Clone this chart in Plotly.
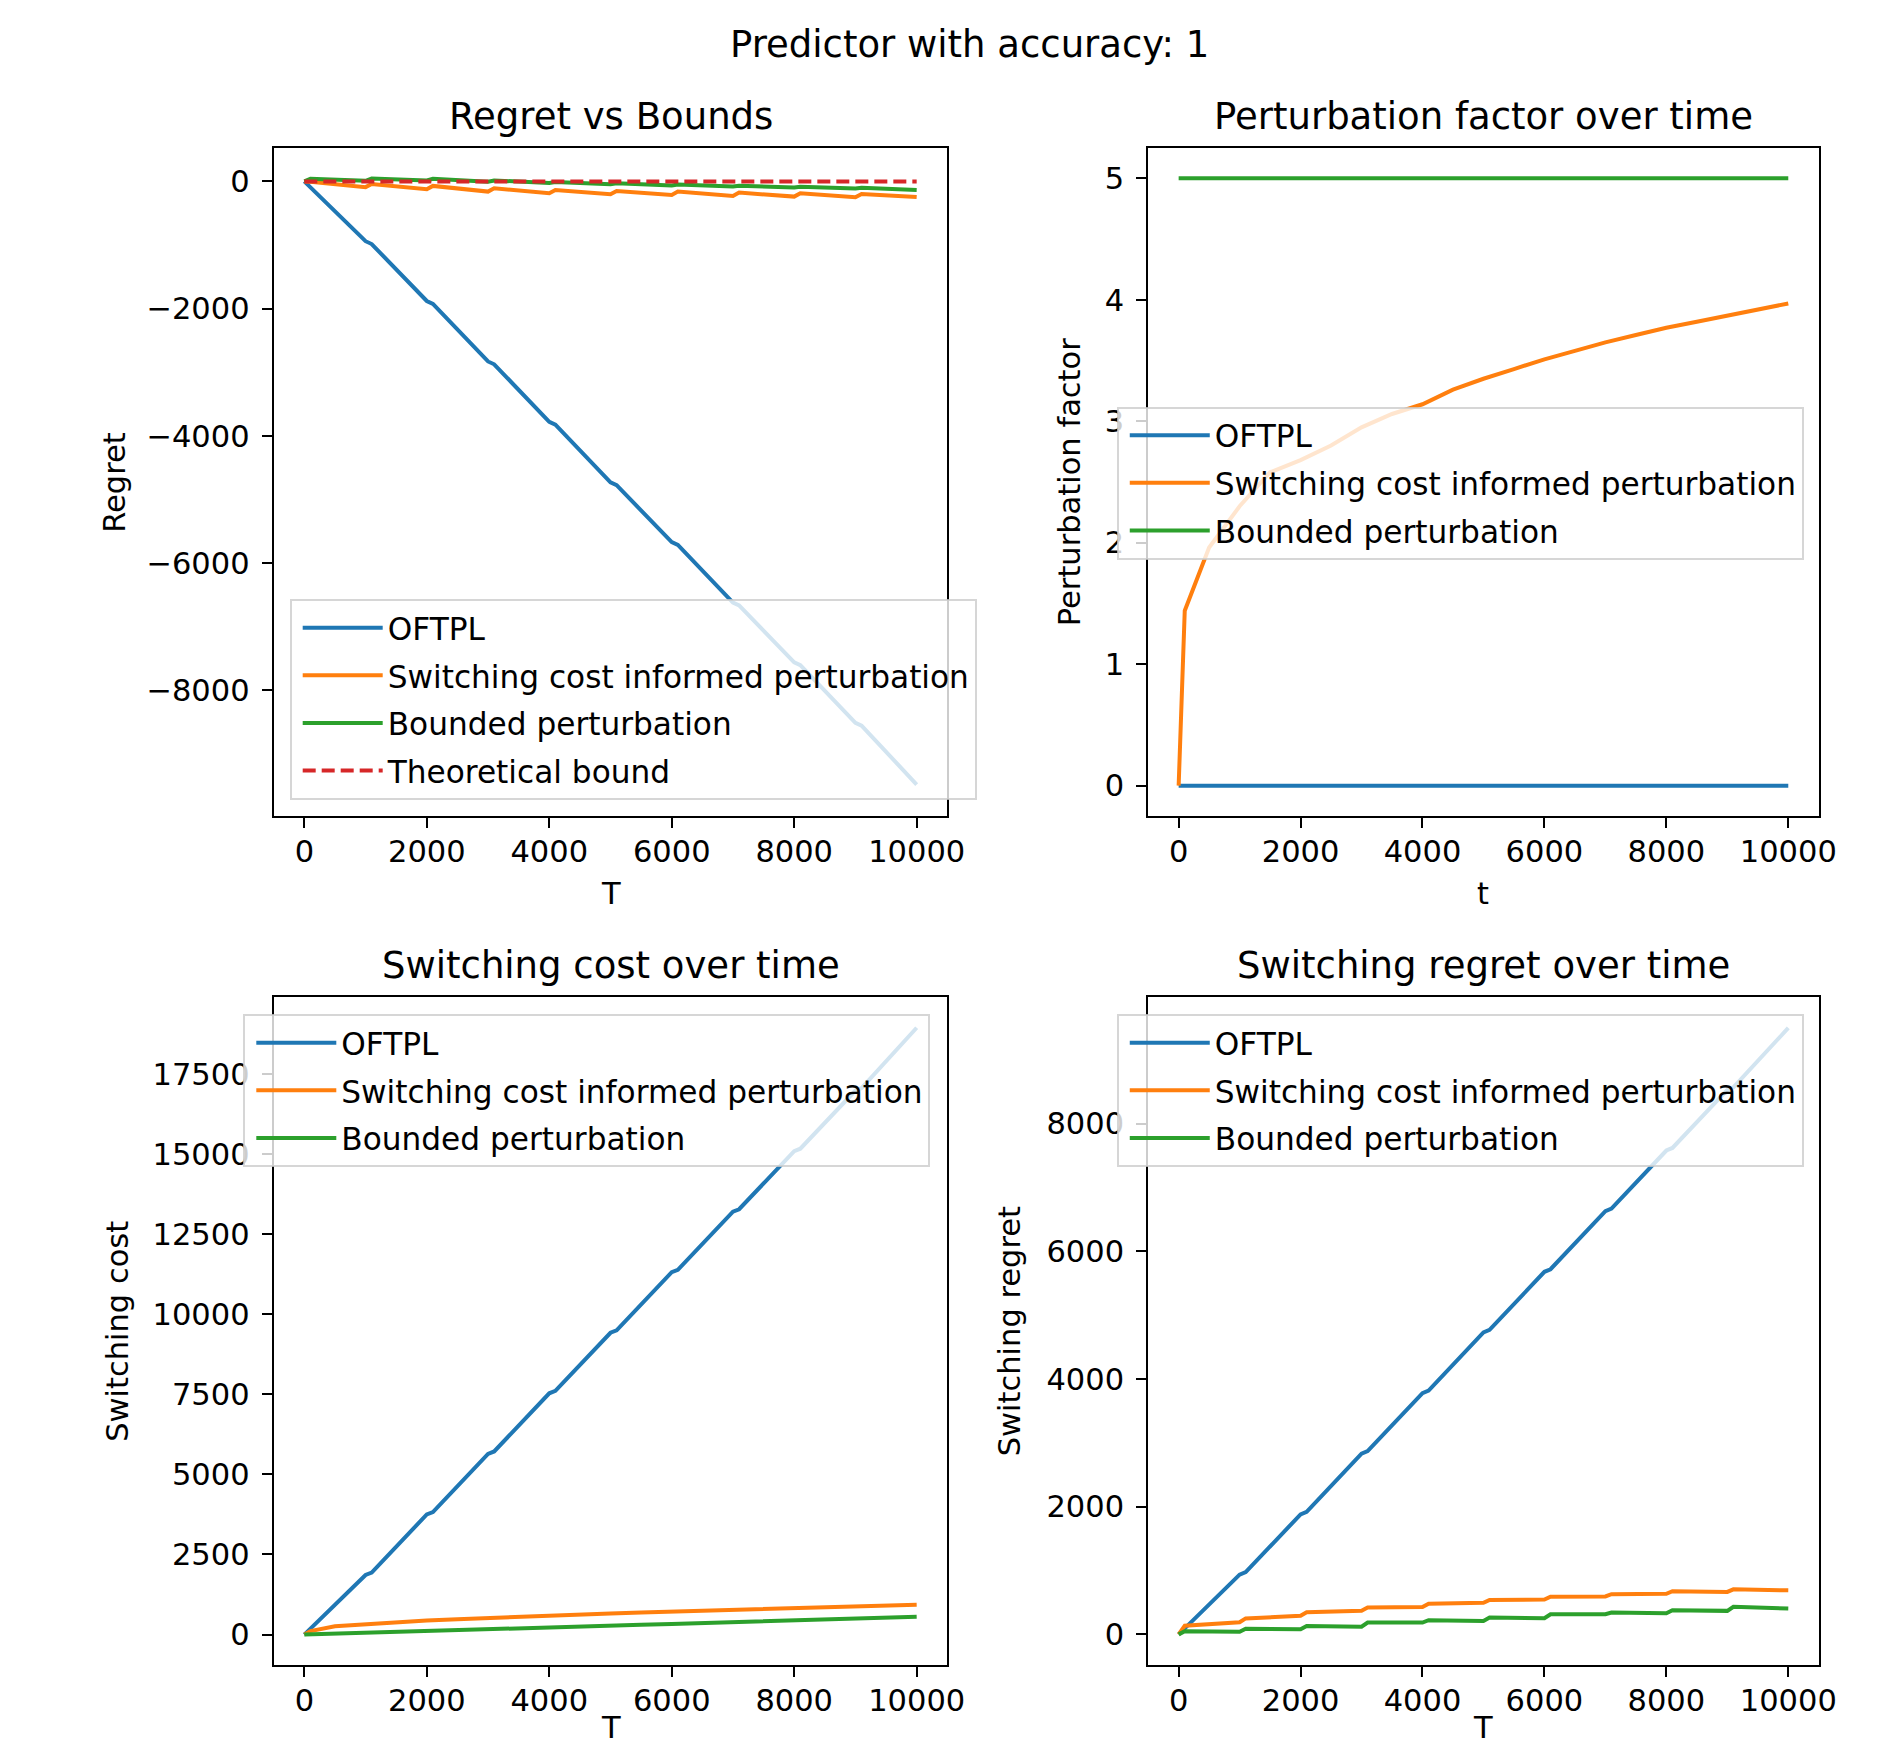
import plotly.graph_objects as go

# page has an 8px body margin: draw the figure 16px smaller and shift coordinates
PAGE_W, PAGE_H = 1889, 1755
OFF = 8
W, H = PAGE_W - 2 * OFF, PAGE_H - 2 * OFF
SX, BX = 0.991, -2.8   # observed horizontal mapping of the rendered page

# ---------------- data ----------------
T_STEP = [0, 100, 1000, 1100, 2000, 2100, 3000, 3100, 4000, 4100, 5000,
          5100, 6000, 6100, 7000, 7100, 8000, 8100, 9000, 9100, 10000]
T_SMOOTH = [0, 100, 500, 1000, 1500, 2000, 2500, 3000, 3500, 4000, 4500,
            5000, 5500, 6000, 6500, 7000, 7500, 8000, 8500, 9000, 9500, 10000]
T_ENDS = [0, 10000]

series_names = ["OFTPL", "Switching cost informed perturbation", "Bounded perturbation"]
bound_name = "Theoretical bound"

# Regret vs Bounds
regret_oftpl = [0, -95, -940, -985, -1880, -1925, -2830, -2875, -3780, -3825, -4730,
                -4775, -5670, -5715, -6620, -6665, -7560, -7605, -8510, -8555, -9480]
regret_switch = [0, -5, -90, -40, -123, -71, -160, -108, -186, -134, -202,
                 -150, -213, -160, -228, -176, -239, -186, -249, -197, -245]
regret_bounded = [0, 40, 10, 45, 15, 40, -5, 15, -25, -10, -45,
                  -30, -65, -50, -80, -68, -95, -85, -112, -100, -134]
regret_bound = [0, 0]

# Perturbation factor over time
pert_oftpl = [0, 0]
pert_switch = [0, 1.44, 1.96, 2.30, 2.58, 2.68, 2.80, 2.95, 3.06, 3.14, 3.26,
               3.35, 3.43, 3.51, 3.58, 3.65, 3.71, 3.77, 3.82, 3.87, 3.92, 3.97]
pert_bounded = [5, 5]

# Switching cost over time
cost_oftpl = [0, 190, 1860, 1935, 3750, 3825, 5640, 5715, 7530, 7605, 9420,
              9495, 11310, 11385, 13200, 13275, 15090, 15165, 16980, 17055, 18940]
cost_switch = [0, 110, 260, 330, 390, 440, 480, 520, 560, 600, 630,
               660, 690, 720, 750, 775, 800, 830, 855, 880, 905, 930]
cost_bounded = [0, 5, 28, 55, 83, 110, 138, 166, 194, 222, 250,
                277, 305, 333, 360, 388, 416, 444, 471, 499, 527, 554]

# Switching regret over time
sreg_oftpl = [0, 95, 935, 975, 1880, 1920, 2830, 2870, 3780, 3820, 4730,
              4770, 5680, 5720, 6630, 6670, 7580, 7620, 8530, 8570, 9500]
sreg_switch = [0, 135, 190, 250, 290, 345, 370, 420, 430, 480, 495,
               540, 545, 590, 595, 630, 635, 675, 665, 705, 690]
sreg_bounded = [0, 50, 42, 89, 79, 131, 121, 184, 184, 221, 210,
                263, 252, 315, 315, 341, 331, 378, 368, 431, 405]

C_BLUE, C_ORANGE, C_GREEN, C_RED = "#1f77b4", "#ff7f0e", "#2ca02c", "#d62728"
FONT = "DejaVu Sans"
LW = 4

fig = go.Figure()

def add(x, y, name, color, ax, legend, group, dash="solid"):
    fig.add_trace(go.Scatter(
        x=x, y=y, name=name, mode="lines",
        line=dict(color=color, width=LW, dash=dash),
        xaxis="x" + ax, yaxis="y" + ax, legend=legend, legendgroup=group,
        showlegend=True))

add(T_STEP, regret_oftpl, series_names[0], C_BLUE, "", "legend", "a1")
add(T_STEP, regret_switch, series_names[1], C_ORANGE, "", "legend", "a2")
add(T_STEP, regret_bounded, series_names[2], C_GREEN, "", "legend", "a3")
add(T_ENDS, regret_bound, bound_name, C_RED, "", "legend", "a4", dash="13px,6px")
add(T_ENDS, pert_oftpl, series_names[0], C_BLUE, "2", "legend2", "b1")
add(T_SMOOTH, pert_switch, series_names[1], C_ORANGE, "2", "legend2", "b2")
add(T_ENDS, pert_bounded, series_names[2], C_GREEN, "2", "legend2", "b3")
add(T_STEP, cost_oftpl, series_names[0], C_BLUE, "3", "legend3", "c1")
add(T_SMOOTH, cost_switch, series_names[1], C_ORANGE, "3", "legend3", "c2")
add(T_SMOOTH, cost_bounded, series_names[2], C_GREEN, "3", "legend3", "c3")
add(T_STEP, sreg_oftpl, series_names[0], C_BLUE, "4", "legend4", "d1")
add(T_STEP, sreg_switch, series_names[1], C_ORANGE, "4", "legend4", "d2")
add(T_STEP, sreg_bounded, series_names[2], C_GREEN, "4", "legend4", "d3")

# ---------------- layout (positions given in page pixels) ----------------
def px(x):
    return ((x - BX) / SX - OFF) / W

def py(y):
    return 1 - (y - OFF) / H

XL = [px(271), px(945)]
XR = [px(1146), px(1817)]
YT = [py(816), py(148)]
YB = [py(1665), py(997)]

def axis(domain, anchor, rng, dtick, standoff):
    return dict(domain=domain, anchor=anchor, range=rng, dtick=dtick, tick0=0,
                showline=True, mirror=True, linecolor="black", linewidth=2,
                ticks="outside", ticklen=10, tickwidth=2, tickcolor="black",
                ticklabelstandoff=standoff,
                showgrid=False, zeroline=False, tickformat="d",
                tickfont=dict(family=FONT, size=30.5, color="black"))

def xaxis(domain, anchor):
    return axis(domain, anchor, [-500, 10500], 2000, -3)

def yaxis(domain, anchor, rng, dtick):
    return axis(domain, anchor, rng, dtick, 6)

def legend(x, y, xa, ya):
    return dict(x=x, y=y, xanchor=xa, yanchor=ya, xref="paper", yref="paper",
                bgcolor="rgba(255,255,255,0.8)", bordercolor="rgba(204,204,204,0.8)",
                borderwidth=2, font=dict(family=FONT, size=31.2, color="black"),
                traceorder="grouped", tracegroupgap=4, itemwidth=80, indentation=6)

fig.update_layout(
    width=W, height=H, autosize=False,
    margin=dict(l=0, r=0, t=0, b=0),
    paper_bgcolor="white", plot_bgcolor="white",
    font=dict(family=FONT, color="black"),
    xaxis=xaxis(XL, "y"),
    yaxis=yaxis(YT, "x", [-9975, 525], 2000),
    xaxis2=xaxis(XR, "y2"),
    yaxis2=yaxis(YT, "x2", [-0.25, 5.25], 1),
    xaxis3=xaxis(XL, "y3"),
    yaxis3=yaxis(YB, "x3", [-950, 19900], 2500),
    xaxis4=xaxis(XR, "y4"),
    yaxis4=yaxis(YB, "x4", [-480, 9985], 2000),
    legend=legend(px(287), py(800), "left", "bottom"),
    legend2=legend(px(1802), py(483), "right", "middle"),
    legend3=legend(px(928), py(1014), "right", "top"),
    legend4=legend(px(1802), py(1014), "right", "top"),
)

def text(s, xpx, ypx, size, angle=0, ya="middle"):
    fig.add_annotation(text=s, x=px(xpx), y=py(ypx), xref="paper", yref="paper",
                       showarrow=False, xanchor="center", yanchor=ya,
                       textangle=angle, font=dict(family=FONT, size=size, color="black"))

text("Predictor with accuracy: 1", 967, 44, 37)
text("Regret vs Bounds", 608, 116, 37)
text("Perturbation factor over time", 1481.5, 116, 37)
text("Switching cost over time", 608, 965, 37)
text("Switching regret over time", 1481.5, 965, 37)
text("T", 608, 893, 30.5)
text("t", 1481.5, 893, 30.5)
text("T", 608, 1747, 30.5, ya="bottom")
text("T", 1481.5, 1747, 30.5, ya="bottom")
text("Regret", 111, 482, 30.5, -90)
text("Perturbation factor", 1067, 482, 30.5, -90)
text("Switching cost", 114, 1331, 30.5, -90)
text("Switching regret", 1007, 1331, 30.5, -90)

fig.write_html("out.html")
